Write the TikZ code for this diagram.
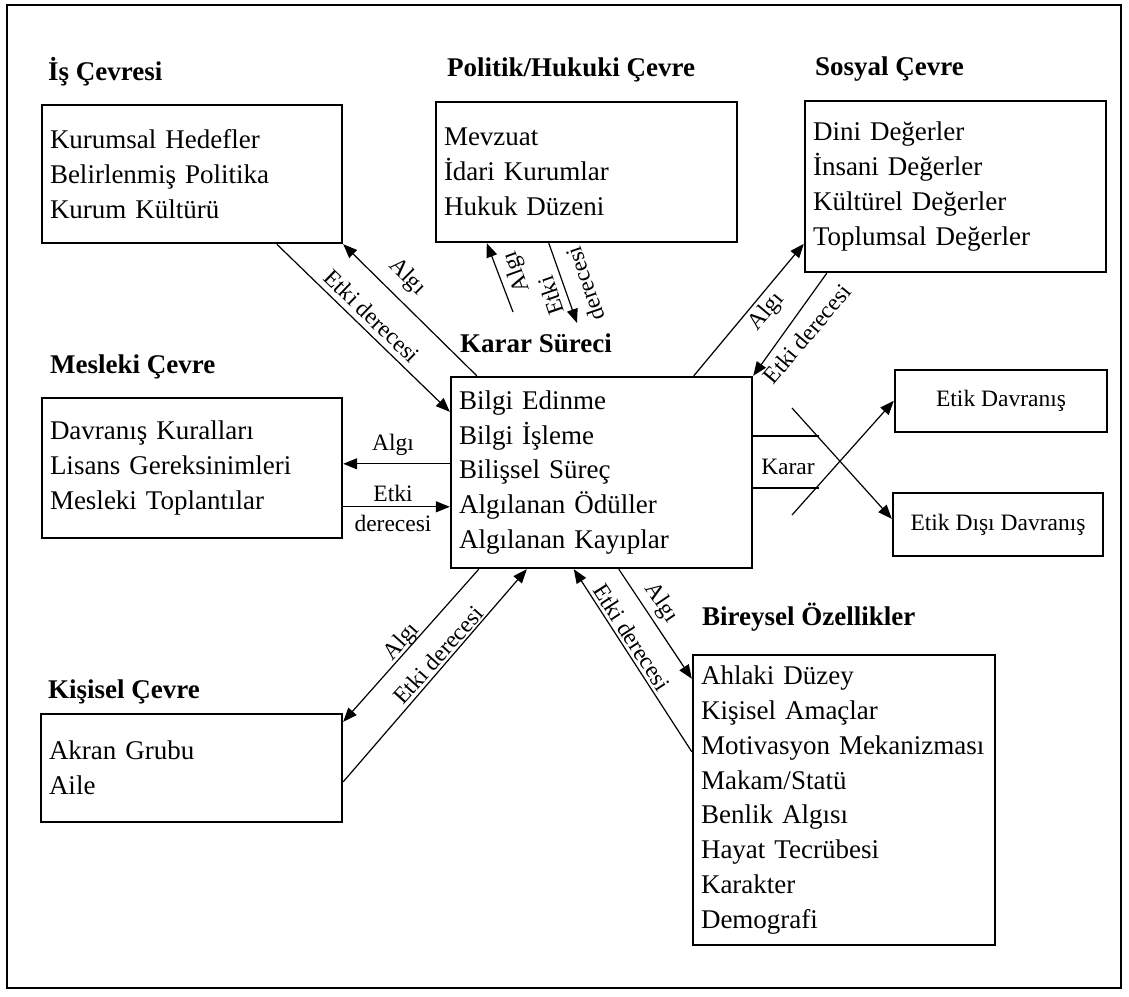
\documentclass[tikz,border=0pt]{standalone}
\usepackage{fontspec}
\setmainfont{Liberation Serif}
\usetikzlibrary{arrows.meta,calc}
\newcommand\itemfont{\fontsize{27}{34.8}\selectfont}
\newcommand\labfont{\fontsize{23.5}{30}\selectfont}
\begin{document}
\begin{tikzpicture}[x=1pt,y=-1pt,
  box/.style={draw, line width=2.4pt, inner xsep=8pt, inner ysep=0pt, align=left, font=\itemfont},
  ebox/.style={draw, line width=2.4pt, inner sep=0pt, align=center, font=\labfont},
  ttl/.style={anchor=base west, inner sep=0pt, font=\itemfont\bfseries},
  conn/.style={line width=1.2pt, -{Triangle[length=14pt,width=11pt]}},
  plain/.style={line width=1.2pt},
  lab/.style={inner sep=0pt, font=\labfont, align=center}]
\useasboundingbox (0,0) rectangle (1129,996);
\draw[line width=1.6pt] (7,5) rectangle (1121,988);

% titles
\node[ttl] (tis) at (48,80) {İş Çevresi};
\node[ttl] (tpol) at (447,76) {Politik/Hukuki Çevre};
\node[ttl] (tsos) at (815,75) {Sosyal Çevre};
\node[ttl] (tmes) at (50,373) {Mesleki Çevre};
\node[ttl] (tkar) at (460,352) {Karar Süreci};
\node[ttl] (tkis) at (48,698) {Kişisel Çevre};
\node[ttl] (tbir) at (702,625) {Bireysel Özellikler};

% boxes
\node[box, text width=284pt, minimum height=138pt] (is) at (192,174)
  {Kurumsal Hedefler\\Belirlenmiş Politika\\Kurum Kültürü};
\node[box, text width=285pt, minimum height=140pt] (pol) at (586.5,172)
  {Mevzuat\\İdari Kurumlar\\Hukuk Düzeni};
\node[box, text width=285pt, minimum height=171pt] (sos) at (955.5,186.5)
  {Dini Değerler\\İnsani Değerler\\Kültürel Değerler\\Toplumsal Değerler};
\node[box, text width=284pt, minimum height=140pt] (mes) at (192,468)
  {Davranış Kuralları\\Lisans Gereksinimleri\\Mesleki Toplantılar};
\node[box, text width=285pt, minimum height=191pt] (karar) at (601.5,472.5)
  {Bilgi Edinme\\Bilgi İşleme\\Bilişsel Süreç\\Algılanan Ödüller\\Algılanan Kayıplar};
\node[ebox, minimum width=212pt, minimum height=62pt] (etik) at (1001,401) {Etik Davranış};
\node[ebox, minimum width=210pt, minimum height=63pt] (ed) at (998,524.5) {Etik Dışı Davranış};
\node[box, text width=285pt, minimum height=108pt] (kis) at (191.5,768)
  {Akran Grubu\\Aile};
\node[box, text width=286pt, minimum height=290pt] (bir) at (844,800)
  {Ahlaki Düzey\\Kişisel Amaçlar\\Motivasyon Mekanizması\\Makam/Statü\\Benlik Algısı\\Hayat Tecrübesi\\Karakter\\Demografi};

% free ends
\coordinate (p1) at (513,312);
\coordinate (p2) at (577,323);
\coordinate (k1) at (819,436);
\coordinate (k2) at (819,488);
\coordinate (c1) at (792,408);
\coordinate (c2) at (792,515);

% İş Çevresi
\draw[conn] ($(karar.north west)+(27,0)$) -- (is.south east);
\draw[conn] ($(is.south west)+(236,0)$) -- ($(karar.north west)+(0,36)$);
\node[lab, rotate=-45] (lis1) at (407,277) {Algı};
\node[lab, rotate=-44] (lis2) at (372,316) {Etki derecesi};

% Politik
\draw[conn] (p1) -- ($(pol.south west)+(52,0)$);
\draw[conn] ($(pol.south west)+(114,0)$) -- (p2);
\node[lab, rotate=110] (lpol1) at (517,272) {Algı};
\node[lab, rotate=109, font=\fontsize{23.5}{36}\selectfont] (lpol2) at (568,290) {Etki\\derecesi};

% Sosyal
\draw[conn] ($(karar.north west)+(244,0)$) -- ($(sos.north west)+(0,144)$);
\draw[conn] ($(sos.south west)+(23,0)$) -- (karar.north east);
\node[lab, rotate=50] (lsos1) at (767,312) {Algı};
\node[lab, rotate=50] (lsos2) at (807,334) {Etki derecesi};

% Mesleki
\draw[conn] ($(karar.north west)+(0,88)$) -- ($(mes.north east)+(0,67)$);
\draw[conn] ($(mes.north east)+(0,110)$) -- ($(karar.north west)+(0,131)$);
\node[lab] (lmes1) at (393,445) {Algı};
\node[lab] (lmes2) at (393,508) {Etki\\derecesi};

% Kişisel
\draw[conn] ($(karar.south west)+(29,0)$) -- ($(kis.north east)+(0,9)$);
\draw[conn] ($(kis.north east)+(0,69)$) -- ($(karar.south west)+(77,0)$);
\node[lab, rotate=48] (lkis1) at (402,642) {Algı};
\node[lab, rotate=48] (lkis2) at (438,655) {Etki derecesi};

% Bireysel
\draw[conn] ($(karar.south west)+(169,0)$) -- ($(bir.north west)+(0,25)$);
\draw[conn] ($(bir.north west)+(0,98)$) -- ($(karar.south west)+(124,0)$);
\node[lab, rotate=-56] (lbir1) at (661,603) {Algı};
\node[lab, rotate=-57] (lbir2) at (632,637) {Etki derecesi};

% Karar
\draw[plain] (karar.east |- k1) -- (k1);
\draw[plain] (karar.east |- k2) -- (k2);
\node[lab] (lkar) at (788,467) {Karar};
\draw[conn] (c1) -- ($(ed.north west)+(0,27)$);
\draw[conn] (c2) -- ($(etik.north west)+(0,32)$);
\end{tikzpicture}
\end{document}
